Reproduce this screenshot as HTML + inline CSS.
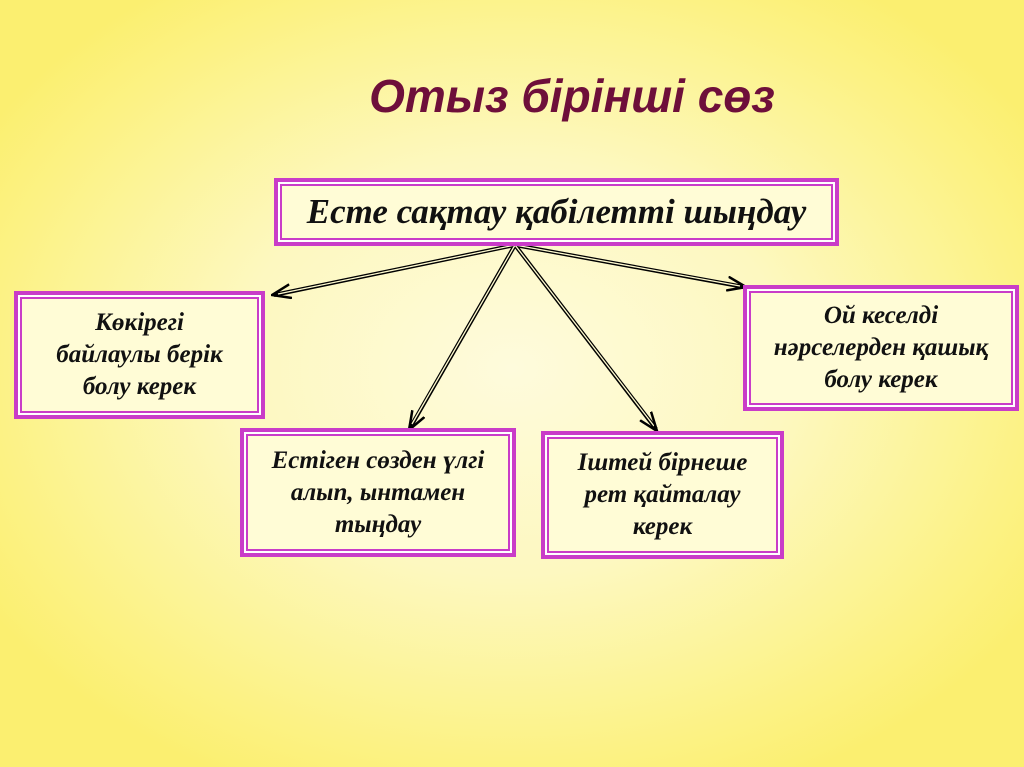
<!DOCTYPE html>
<html><head><meta charset="utf-8"><style>
html,body{margin:0;padding:0}
body{width:1024px;height:767px;position:relative;overflow:hidden;
background:radial-gradient(ellipse 60% 60% at 50% 48%,#fefbdc 0%,#fdf8c0 45%,#fcf284 85%,#fbef70 100%);
font-family:"Liberation Serif",serif;}
.t{position:absolute;left:0;width:1144px;top:69px;text-align:center;font:italic bold 46px "Liberation Sans",sans-serif;color:#6e0f3a}
.b{position:absolute;box-sizing:border-box;background:#fffcd6;border:4px solid #c93cc8;
box-shadow:inset 0 0 0 2px #fff,inset 0 0 0 4px #c93cc8;display:flex;align-items:center;justify-content:center;text-align:center;
font-style:italic;font-weight:bold;color:#111;font-size:25px;line-height:32px;white-space:nowrap}
</style></head><body>
<div class="t">Отыз бірінші сөз</div>
<svg width="1024" height="767" style="position:absolute;left:0;top:0">
<defs><marker id="a" markerWidth="20" markerHeight="16" refX="19" refY="8" orient="auto" markerUnits="userSpaceOnUse">
<path d="M0,1 L19,8 L0,15" fill="none" stroke="#000" stroke-width="2.5"/></marker></defs>
<g stroke="#000" stroke-width="4" fill="none">
<line x1="515" y1="245" x2="274" y2="295"/><line x1="515" y1="245" x2="410" y2="428"/>
<line x1="515" y1="245" x2="656" y2="429"/><line x1="515" y1="245" x2="744" y2="287"/></g>
<g stroke="#fffbd0" stroke-width="1.3" fill="none">
<line x1="515" y1="245" x2="278" y2="294"/><line x1="515" y1="245" x2="412" y2="424"/>
<line x1="515" y1="245" x2="654" y2="426"/><line x1="515" y1="245" x2="740" y2="286"/></g>
<g stroke="none" fill="none">
<line x1="515" y1="245" x2="272" y2="295" marker-end="url(#a)"/><line x1="515" y1="245" x2="409" y2="430" marker-end="url(#a)"/>
<line x1="515" y1="245" x2="657" y2="431" marker-end="url(#a)"/><line x1="515" y1="245" x2="746" y2="287" marker-end="url(#a)"/></g>
</svg>
<div class="b" style="left:274px;top:178px;width:565px;height:68px;font-size:35px">Есте сақтау қабілетті шыңдау</div>
<div class="b" style="left:14px;top:291px;width:251px;height:128px">Көкірегі<br>байлаулы берік<br>болу керек</div>
<div class="b" style="left:743px;top:285px;width:276px;height:126px">Ой кеселді<br>нәрселерден қашық<br>болу керек</div>
<div class="b" style="left:240px;top:428px;width:276px;height:129px">Естіген сөзден үлгі<br>алып, ынтамен<br>тыңдау</div>
<div class="b" style="left:541px;top:431px;width:243px;height:128px">Іштей бірнеше<br>рет қайталау<br>керек</div>
</body></html>
